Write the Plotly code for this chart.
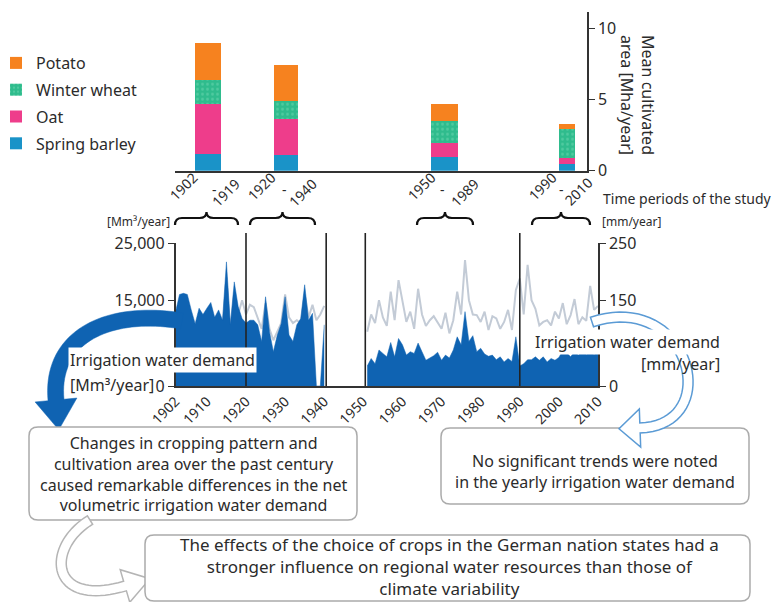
import plotly.graph_objects as go

W, H = 784, 602

# ---------------- data ----------------
periods_start = [1902, 1920, 1950, 1990]
periods_end = [1919, 1940, 1989, 2010]
crop_names = ["Spring barley", "Oat", "Winter wheat", "Potato"]
spring_barley = [1.17, 1.10, 0.98, 0.52]
oat = [3.51, 2.53, 0.99, 0.39]
winter_wheat = [1.69, 1.29, 1.54, 2.06]
potato = [2.65, 2.55, 1.22, 0.31]

years = list(range(1902, 2011))
demand_mm3 = (
    [13000, 16000, 16200, 16000, 13300, 10900, 13600, 12500, 13600, 14600,
     12000, 13300, 11500, 21700, 10700, 18200, 13900, 11800, 11000, 11500,
     11500, 10700, 7800, 15600, 9500, 6000, 8900, 10900, 15600, 8900,
     7800, 10700, 11800, 17700, 11500, 12700, 0, 0, 10700]
    + [None] * 10
    + [3500, 4800, 3900, 6300, 5700, 5100, 7600, 5100, 8300, 7200,
       5400, 6000, 5700, 7500, 6000, 4500, 4900, 5300, 5900, 4500,
       5400, 4900, 6300, 8600, 7200, 13000, 7800, 8800, 6000, 6600,
       5600, 5200, 5400, 4600, 5100, 4200, 4800, 4300, 8600, 3500,
       3900, 4600, 4600, 5100, 4500, 5100, 4200, 4800, 4500, 5000,
       6200, 5800, 5100, 6000, 5400, 6200, 5500, 5900, 5500, 5900]
)
demand_mm = (
    [110, 140, 145, 140, 120, 100, 120, 110, 120, 130,
     105, 120, 100, 190, 95, 165, 125, 150, 125, 142,
     138, 120, 100, 145, 100, 80, 95, 110, 160, 120,
     110, 115, 110, 160, 120, 142, 115, 125, 140]
    + [None] * 10
    + [95, 125, 110, 150, 120, 105, 165, 115, 185, 145,
       112, 130, 100, 170, 125, 105, 115, 122, 110, 100,
       128, 92, 115, 165, 125, 220, 150, 125, 124, 112,
       130, 98, 122, 118, 100, 112, 133, 98, 168, 188,
       125, 212, 150, 135, 106, 112, 115, 106, 130, 118,
       145, 108, 124, 152, 108, 120, 114, 175, 133, 140]
)
period_lines = [1920, 1940.5, 1950.5, 1990]
year_ticks = [1902, 1910, 1920, 1930, 1940, 1950, 1960, 1970, 1980, 1990, 2000, 2010]
area_ticks = [0, 5, 10]
mm3_ticks = [0, 15000, 25000]
mm_ticks = [0, 150, 250]

# ---------------- helpers ----------------
FONT = "Noto Sans"
TXT = "#2b2b2b"
AX = "#333333"
BLUE = "#0f63b2"


def px(x):
    return x / W


def py(y):
    return 1 - y / H


def P(x, y):
    return f"{px(x):.5f},{py(y):.5f}"


def arrow_path(p0, p1, p2, p3, w, hl, hw, n=40):
    left, right = [], []
    for i in range(n + 1):
        t = i / n
        bx = (1-t)**3*p0[0] + 3*(1-t)**2*t*p1[0] + 3*(1-t)*t**2*p2[0] + t**3*p3[0]
        by = (1-t)**3*p0[1] + 3*(1-t)**2*t*p1[1] + 3*(1-t)*t**2*p2[1] + t**3*p3[1]
        dx = 3*(1-t)**2*(p1[0]-p0[0]) + 6*(1-t)*t*(p2[0]-p1[0]) + 3*t**2*(p3[0]-p2[0])
        dy = 3*(1-t)**2*(p1[1]-p0[1]) + 6*(1-t)*t*(p2[1]-p1[1]) + 3*t**2*(p3[1]-p2[1])
        L = (dx*dx + dy*dy) ** 0.5
        dx, dy = dx / L, dy / L
        nx, ny = -dy, dx
        left.append((bx + nx*w/2, by + ny*w/2))
        right.append((bx - nx*w/2, by - ny*w/2))
    tip = (p3[0] + dx*hl, p3[1] + dy*hl)
    hl_pt = (p3[0] + nx*hw/2, p3[1] + ny*hw/2)
    hr_pt = (p3[0] - nx*hw/2, p3[1] - ny*hw/2)
    pts = left + [hl_pt, tip, hr_pt] + right[::-1]
    return "M " + " L ".join(P(x, y) for x, y in pts) + " Z"


def rrect(x0, y0, x1, y1, r):
    return (f"M {P(x0+r, y0)} L {P(x1-r, y0)} Q {P(x1, y0)} {P(x1, y0+r)} "
            f"L {P(x1, y1-r)} Q {P(x1, y1)} {P(x1-r, y1)} L {P(x0+r, y1)} "
            f"Q {P(x0, y1)} {P(x0, y1-r)} L {P(x0, y0+r)} Q {P(x0, y0)} {P(x0+r, y0)} Z")


def brace(x0, x1, yb, yf, yt):
    xm = (x0 + x1) / 2
    r = 7
    return (f"M {P(x0, yb)} Q {P(x0, yf)} {P(x0+r, yf)} L {P(xm-r, yf)} "
            f"Q {P(xm, yf)} {P(xm, yt)} Q {P(xm, yf)} {P(xm+r, yf)} "
            f"L {P(x1-r, yf)} Q {P(x1, yf)} {P(x1, yb)}")


# ---------------- figure ----------------
fig = go.Figure()

period_mid = [(s + e) / 2 for s, e in zip(periods_start, periods_end)]
bar_w = [6.5, 6.1, 6.6, 3.9]
crop_vals = [spring_barley, oat, winter_wheat, potato]
crop_cols = ["#1a93c8", "#ee3d8b", "#2fbc8d", "#f6821f"]
for i, (name, vals, col) in enumerate(zip(crop_names, crop_vals, crop_cols)):
    kw = {}
    if name == "Winter wheat":
        kw = dict(pattern=dict(shape=".", fgcolor="#6fd8b2", size=5, solidity=0.25))
    fig.add_trace(go.Bar(
        x=period_mid, y=vals, name=name, width=bar_w,
        marker=dict(color=col, line=dict(width=0), **kw),
        xaxis="x", yaxis="y", legendgroup=name, legendrank=len(crop_names) - i,
    ))

# mm/year line (base axis, right)
fig.add_trace(go.Scatter(x=years, y=demand_mm, mode="lines", xaxis="x2", yaxis="y2",
                         line=dict(color="white", width=5), showlegend=False, hoverinfo="skip"))
fig.add_trace(go.Scatter(x=years, y=demand_mm, mode="lines", xaxis="x2", yaxis="y2",
                         line=dict(color="#c3cbd6", width=2), showlegend=False))

# Mm3/year area (overlay axis, left) - one filled trace per continuous run of data
runs, cur = [], []
for yr, v in zip(years, demand_mm3):
    if v is None:
        if cur:
            runs.append(cur)
        cur = []
    else:
        cur.append((yr, v))
if cur:
    runs.append(cur)
for run in runs:
    fig.add_trace(go.Scatter(x=[r[0] for r in run], y=[r[1] for r in run], mode="lines",
                             fill="tozeroy", xaxis="x2", yaxis="y3",
                             line=dict(color=BLUE, width=0.5), fillcolor=BLUE, showlegend=False))

shapes = []
for b in period_lines:
    shapes.append(dict(type="line", xref="x2", yref="paper", x0=b, x1=b, y0=py(386), y1=py(233),
                       line=dict(color="#222", width=1.6), layer="above"))

# braces
for x0, x1 in [(175, 238), (250, 315), (417, 473), (532, 590)]:
    shapes.append(dict(type="path", xref="paper", yref="paper", path=brace(x0, x1, 225, 218, 212),
                       line=dict(color="#111", width=2.2)))


def add_box(x0, y0, x1, y1):
    shapes.append(dict(type="path", xref="paper", yref="paper", path=rrect(x0, y0, x1, y1, 9),
                       fillcolor="white", line=dict(color="#ababab", width=1.5), layer="above"))


# blue arrow, then box 1
shapes.append(dict(type="path", xref="paper", yref="paper",
                   path=arrow_path((182, 321), (110, 309), (50, 335), (56, 400), 16, 30, 42),
                   fillcolor=BLUE, line=dict(color=BLUE, width=0.5), layer="above"))
add_box(29, 427, 357, 520)
# box 2, then outlined arrow over it
add_box(441, 428, 749, 504)
shapes.append(dict(type="path", xref="paper", yref="paper",
                   path=arrow_path((592, 322), (690, 290), (725, 425), (640, 428), 10, 21, 38),
                   fillcolor="white", line=dict(color="#5b9bd5", width=1.5), layer="above"))
# grey arrow, then box 3
shapes.append(dict(type="path", xref="paper", yref="paper",
                   path=arrow_path((90, 520), (45, 548), (50, 608), (125, 586), 10, 26, 34),
                   fillcolor="white", line=dict(color="#b5b5b5", width=1.5), layer="above"))
add_box(145, 535, 750, 601)

ann = []


def A(text, x, y, size=16, xanchor="center", **kw):
    ann.append(dict(text=text, x=px(x), y=py(y), xref="paper", yref="paper", showarrow=False,
                    xanchor=xanchor, yanchor="middle", font=dict(family=FONT, size=size, color=TXT), **kw))


A("Mean cultivated<br>area [Mha/year]", 637, 95, size=16, textangle=90)
A("Time periods of the study", 601, 198, size=14, xanchor="left")

starts_pos = [(183, 186), (261, 186), (421, 186), (542, 186)]
ends_pos = [(226, 193), (303, 193), (465, 193), (578, 191)]
dash_pos = [(214, 190), (284, 190), (442, 190), (561, 190)]
for s, e, sp, ep, dp in zip(periods_start, periods_end, starts_pos, ends_pos, dash_pos):
    A(str(s), sp[0], sp[1], size=14, textangle=-45)
    A("-", dp[0], dp[1], size=14)
    A(str(e), ep[0], ep[1], size=14, textangle=-45)

A("[Mm³/year]", 172, 222, size=12, xanchor="right")
A("[mm/year]", 600, 222, size=12, xanchor="left")
A("Irrigation water demand", 68, 360, size=16, xanchor="left", bgcolor="white", borderpad=1)
A("[Mm³/year]", 68, 385, size=16, xanchor="left")
A("Irrigation water demand", 722, 342, size=16, xanchor="right", bgcolor="white", borderpad=1)
A("[mm/year]", 722, 364, size=16, xanchor="right")

A("Changes in cropping pattern and<br>cultivation area over the past century<br>"
  "caused remarkable differences in the net<br>volumetric irrigation water demand", 193, 474, size=16)
A("No significant trends were noted<br>in the yearly irrigation water demand", 595, 471, size=16)
A("The effects of the choice of crops in the German nation states had a<br>"
  "stronger influence on regional water resources than those of<br>climate variability", 449, 566, size=17)

fig.update_layout(
    width=W, height=H, margin=dict(l=0, r=0, t=0, b=0, autoexpand=False),
    paper_bgcolor="white", plot_bgcolor="rgba(0,0,0,0)",
    barmode="stack", bargap=0,
    font=dict(family=FONT, color=TXT),
    showlegend=True,
    legend=dict(x=px(-4), y=py(46), xanchor="left", yanchor="top", traceorder="grouped",
                font=dict(family=FONT, size=16, color=TXT), bgcolor="rgba(0,0,0,0)",
                tracegroupgap=3, itemclick=False),
    xaxis=dict(domain=[px(175), px(587)], range=[1902.3, 2005], anchor="y", showline=True,
               linecolor=AX, linewidth=1.5, showticklabels=False, ticks="", showgrid=False, zeroline=False),
    yaxis=dict(domain=[py(170.7), py(11.7)], range=[0, 11.17], side="right", anchor="x",
               tickvals=area_ticks, ticks="outside", ticklen=6, tickcolor=AX, showline=True, linecolor=AX,
               linewidth=1.5, showgrid=False, zeroline=False, tickfont=dict(size=16, color=TXT)),
    xaxis2=dict(domain=[px(175.6), px(598)], range=[1902, 2010], anchor="y2", showline=True,
                linecolor=AX, linewidth=1.5, tickvals=year_ticks, tickangle=-45, ticks="",
                tickfont=dict(size=14, color=TXT), showgrid=False, zeroline=False),
    yaxis2=dict(domain=[py(386), py(243)], range=[0, 250], side="right", anchor="x2",
                tickvals=mm_ticks, ticks="outside", ticklen=6, tickcolor=AX, showline=True, linecolor=AX,
                linewidth=1.5, showgrid=False, zeroline=False, tickfont=dict(size=16, color=TXT)),
    yaxis3=dict(range=[0, 25000], side="left", anchor="x2", overlaying="y2",
                tickvals=mm3_ticks, tickformat=",d", ticks="outside", ticklen=6, tickcolor=AX,
                showline=True, linecolor=AX, linewidth=1.5, showgrid=False, zeroline=False,
                tickfont=dict(size=16, color=TXT)),
    shapes=shapes, annotations=ann,
)

fig.write_html("out.html", config={"displayModeBar": False},
               post_script="document.body.style.margin='0';")
